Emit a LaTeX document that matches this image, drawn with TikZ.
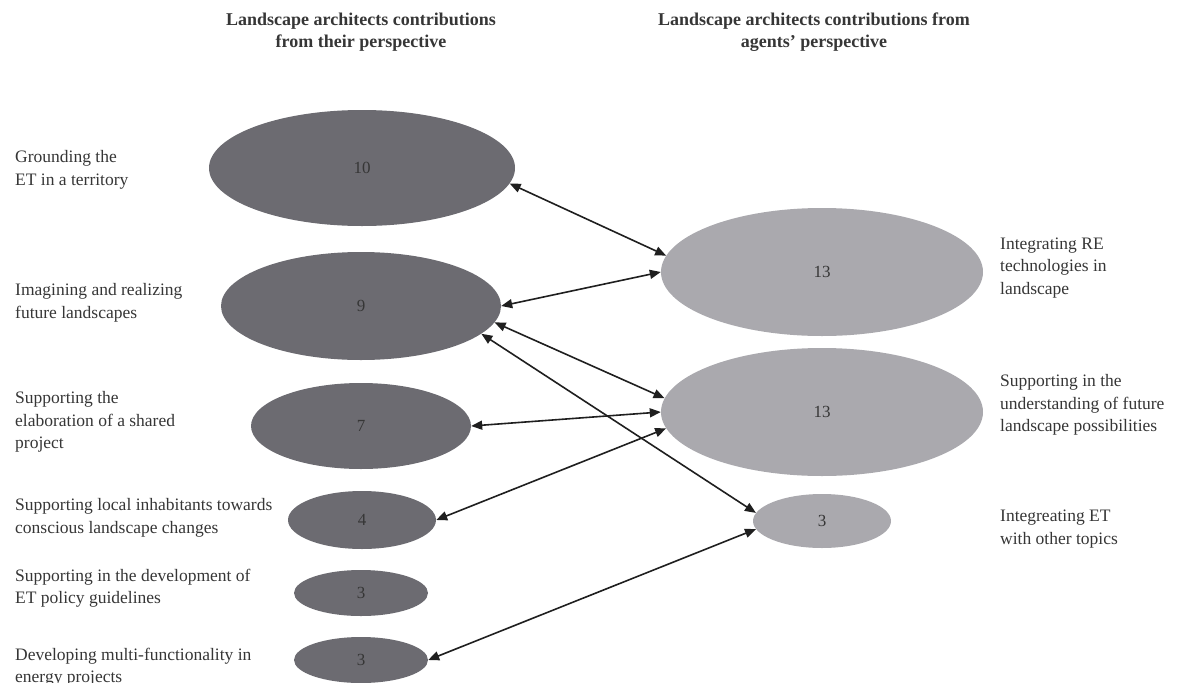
\documentclass[tikz,border=0pt]{standalone}
\usepackage{fontspec}
\setmainfont{Liberation Serif}
\usetikzlibrary{shapes.geometric,arrows.meta}
\definecolor{darkell}{HTML}{6C6B71}
\definecolor{lightell}{HTML}{AAA9AE}
\definecolor{txt}{HTML}{363636}
\begin{document}
\begin{tikzpicture}[x=1pt,y=-1pt,
  bubble/.style={ellipse, draw=none, inner sep=0pt, text=txt, font=\fontsize{17}{20}\selectfont},
  darkbub/.style={bubble, fill=darkell},
  lightbub/.style={bubble, fill=lightell},
  lbl/.style={anchor=west, align=left, text=txt, inner sep=0pt, font=\fontsize{17.5}{22.5}\selectfont},
  head/.style={align=center, text=txt, inner sep=0pt, font=\bfseries\fontsize{18}{21.5}\selectfont},
  conn/.style={{Triangle[length=11pt,width=9pt]}-{Triangle[length=11pt,width=9pt]}, line width=1.6pt, draw=black!88}
]
\useasboundingbox (0,0) rectangle (1179,683);

% headers
\node[head] (h1) at (361,32) {Landscape architects contributions\\from their perspective};
\node[head] (h2) at (814,32) {Landscape architects contributions from\\agents’ perspective};

% left ellipses
\node[darkbub, minimum width=306pt, minimum height=116pt] (e1) at (362,168) {10};
\node[darkbub, minimum width=280pt, minimum height=108pt] (e2) at (361,306) {9};
\node[darkbub, minimum width=220pt, minimum height=86pt] (e3) at (361,426) {7};
\node[darkbub, minimum width=148pt, minimum height=58pt] (e4) at (362,520) {4};
\node[darkbub, minimum width=134pt, minimum height=46pt] (e5) at (361,593) {3};
\node[darkbub, minimum width=134pt, minimum height=46pt] (e6) at (361,660) {3};

% right ellipses
\node[lightbub, minimum width=322pt, minimum height=128pt] (r1) at (822,272) {13};
\node[lightbub, minimum width=322pt, minimum height=128pt] (r2) at (822,412) {13};
\node[lightbub, minimum width=138pt, minimum height=54pt] (r3) at (822,521) {3};

% left labels
\node[lbl] (t1) at (15,170) {Grounding the\\ET in a territory};
\node[lbl] (t2) at (15,303) {Imagining and realizing\\future landscapes};
\node[lbl] (t3) at (15,422) {Supporting the\\elaboration of a shared\\project};
\node[lbl] (t4) at (15,518) {Supporting local inhabitants towards\\conscious landscape changes};
\node[lbl] (t5) at (15,588) {Supporting in the development of\\ET policy guidelines};
\node[lbl] (t6) at (15,667) {Developing multi-functionality in\\energy projects};

% right labels
\node[lbl] (u1) at (1000,268) {Integrating RE\\technologies in\\landscape};
\node[lbl] (u2) at (1000,405) {Supporting in the\\understanding of future\\landscape possibilities};
\node[lbl] (u3) at (1000,529) {Integreating ET\\with other topics};

% connectors
\draw[conn] (e1.-6) -- (r1.174.6);
\draw[conn] (e2.0) -- (r1.180);
\draw[conn] (e2.-7.4) -- (r2.175);
\draw[conn] (e2.-13.7) -- (r3.173.5);
\draw[conn] (e3.0) -- (r2.180);
\draw[conn] (e4.0) -- (r2.186.6);
\draw[conn] (e6.0) -- (r3.187.5);
\end{tikzpicture}
\end{document}
